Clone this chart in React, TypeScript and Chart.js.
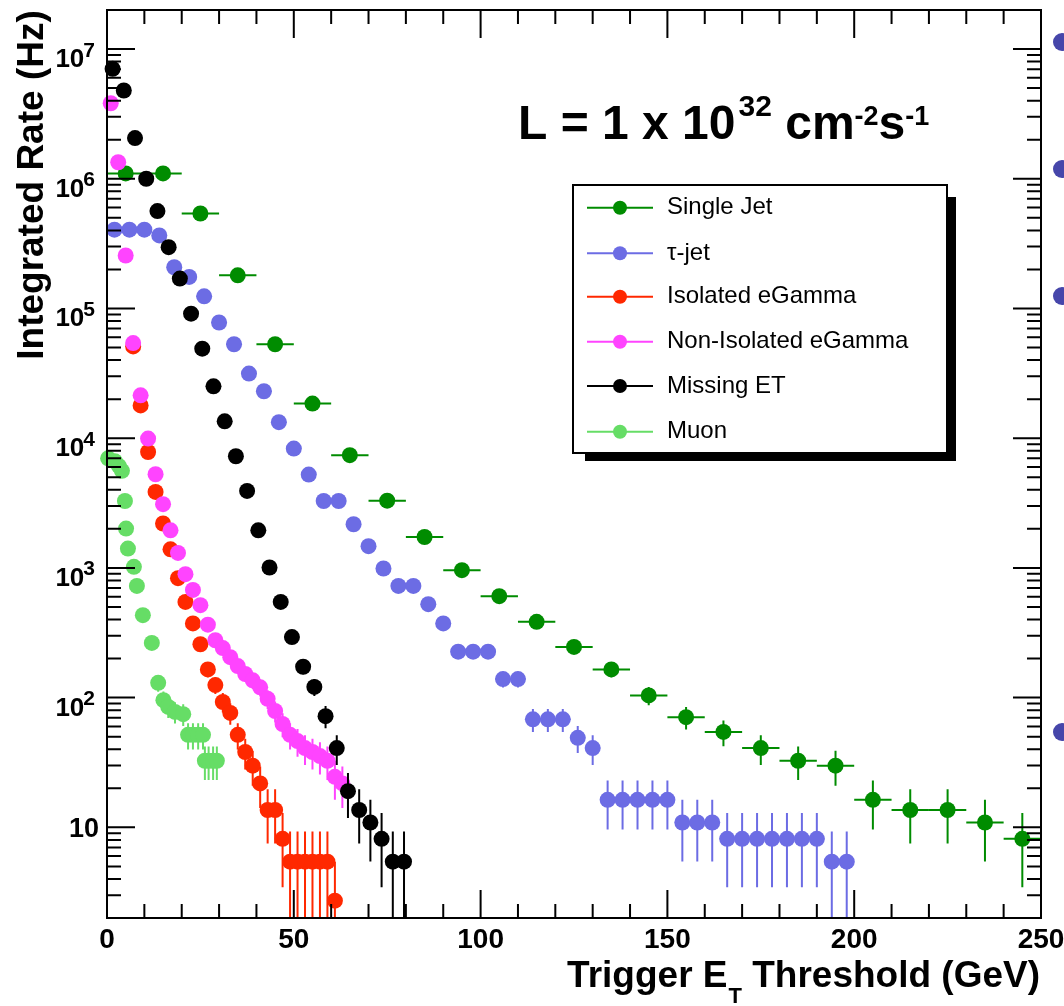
import React, { useEffect, useRef } from 'react';
import { Chart, registerables } from 'chart.js';

Chart.register(...registerables);

// ---------------- data ----------------
const SERIES_LABELS = ['Single Jet', 'τ-jet', 'Isolated eGamma', 'Non-Isolated eGamma', 'Missing ET', 'Muon'];

const jetX = [5, 15, 25, 35, 45, 55, 65, 75, 85, 95, 105, 115, 125, 135, 145, 155, 165, 175, 185, 195, 205, 215, 225, 235, 245];
const jetY = [1.1e6, 1.1e6, 5.4e5, 1.8e5, 5.3e4, 1.85e4, 7400, 3300, 1730, 960, 605, 384, 246, 165, 104, 70.7, 54.4, 40.8, 32.6, 29.9, 16.3, 13.6, 13.6, 10.9, 8.16];

const tauX = [2, 6, 10, 14, 18, 22, 26, 30, 34, 38, 42, 46, 50, 54, 58, 62, 66, 70, 74, 78, 82, 86, 90, 94, 98, 102, 106, 110, 114, 118, 122, 126, 130, 134, 138, 142, 146, 150, 154, 158, 162, 166, 170, 174, 178, 182, 186, 190, 194, 198];
const tauY = [4.05e5, 4.05e5, 4.05e5, 3.66e5, 2.08e5, 1.75e5, 1.24e5, 7.8e4, 5.3e4, 3.15e4, 2.3e4, 1.33e4, 8320, 5240, 3280, 3280, 2170, 1470, 990, 726, 726, 525, 373, 226, 226, 226, 139, 139, 68, 68, 68, 49, 40.8, 16.3, 16.3, 16.3, 16.3, 16.3, 10.9, 10.9, 10.9, 8.16, 8.16, 8.16, 8.16, 8.16, 8.16, 8.16, 5.44, 5.44];

const isoX = [7, 9, 11, 13, 15, 17, 19, 21, 23, 25, 27, 29, 31, 33, 35, 37, 39, 41, 43, 45, 47, 49, 51, 53, 55, 57, 59, 61];
const isoY = [5.1e4, 1.79e4, 7830, 3850, 2200, 1390, 834, 547, 373, 258, 165, 125, 92.5, 76.2, 51.7, 38.1, 29.9, 21.8, 13.6, 13.6, 8.16, 5.44, 5.44, 5.44, 5.44, 5.44, 5.44, 2.72];

const nonIsoX = [1, 3, 5, 7, 9, 11, 13, 15, 17, 19, 21, 23, 25, 27, 29, 31, 33, 35, 37, 39, 41, 43, 45, 47, 49, 51, 53, 55, 57, 59, 61, 63];
const nonIsoY = [3.82e6, 1.34e6, 2.56e5, 5.41e4, 2.14e4, 9930, 5270, 3100, 1950, 1305, 894, 677, 516, 365, 277, 241, 205, 175, 152, 136, 120, 97.9, 78.9, 62.6, 51.7, 46.2, 40.8, 38.1, 35.4, 32.6, 24.5, 21.8];

const metX = [1.5, 4.5, 7.5, 10.5, 13.5, 16.5, 19.5, 22.5, 25.5, 28.5, 31.5, 34.5, 37.5, 40.5, 43.5, 46.5, 49.5, 52.5, 55.5, 58.5, 61.5, 64.5, 67.5, 70.5, 73.5, 76.5, 79.5];
const metY = [7.04e6, 4.79e6, 2.06e6, 1.0e6, 5.63e5, 2.97e5, 1.7e5, 9.12e4, 4.9e4, 2.51e4, 1.35e4, 7260, 3920, 1950, 1007, 547, 293, 173, 121, 72, 40.8, 19.0, 13.6, 10.9, 8.16, 5.44, 5.44];

const muonX = [0.3, 2.1, 3.2, 4.0, 4.8, 5.1, 5.6, 7.2, 8.0, 9.6, 12.0, 13.7, 15.1, 16.4, 18.2, 20.4, 21.7, 23.0, 24.4, 25.7, 26.2, 27.2, 28.4, 29.4];
const muonY = [7000, 6650, 6100, 5600, 3280, 2010, 1410, 1020, 726, 432, 264, 130, 95.5, 84.8, 77.6, 74.6, 51.7, 51.7, 51.7, 51.7, 32.6, 32.6, 32.6, 32.6];

// half bin widths (GeV) used for horizontal error bars
const BIN_HALF_WIDTH = [5, 2, 1, 1, 1.5, 0.4];
// rate carried by one simulated event (Hz): vertical errors are sqrt(N) * weight
const EVENT_WEIGHT = 2.72;

const X_TICK_VALUES = [0, 50, 100, 150, 200, 250];
const X_TICK_LABELS = ['0', '50', '100', '150', '200', '250'];
const Y_TICK_VALUES = [10, 1e2, 1e3, 1e4, 1e5, 1e6, 1e7];
const Y_TICK_EXPONENTS = ['', '2', '3', '4', '5', '6', '7'];

const COLORS = ['#008c00', '#6c6ce4', '#ff2800', '#ff44ff', '#000000', '#66dd66'];
const SERIES_X = [jetX, tauX, isoX, nonIsoX, metX, muonX];
const SERIES_Y = [jetY, tauY, isoY, nonIsoY, metY, muonY];

const FONT = '"Liberation Sans", Arial, Helvetica, sans-serif';

type Run = { t: string; size: number; dy: number; bold?: boolean; gap?: number };

function runsWidth(ctx: CanvasRenderingContext2D, runs: Run[]) {
  let w = 0;
  for (const r of runs) {
    ctx.font = `${r.bold === false ? '' : 'bold '}${r.size}px ${FONT}`;
    w += ctx.measureText(r.t).width + (r.gap || 0);
  }
  return w;
}

function drawRuns(ctx: CanvasRenderingContext2D, runs: Run[], x: number, y: number, align: 'left' | 'right') {
  let cx = align === 'left' ? x : x - runsWidth(ctx, runs);
  ctx.textAlign = 'left';
  ctx.textBaseline = 'alphabetic';
  for (const r of runs) {
    ctx.font = `${r.bold === false ? '' : 'bold '}${r.size}px ${FONT}`;
    cx += r.gap || 0;
    ctx.fillText(r.t, cx, y + r.dy);
    cx += ctx.measureText(r.t).width;
  }
}

const decorPlugin = {
  id: 'rootDecor',
  beforeDatasetDraw(chart: any, args: any) {
    const i = args.index;
    const ctx: CanvasRenderingContext2D = chart.ctx;
    const ca = chart.chartArea;
    const xs = chart.scales.x;
    const ys = chart.scales.y;
    const data = chart.data.datasets[i].data as { x: number; y: number }[];
    ctx.save();
    ctx.beginPath();
    ctx.rect(ca.left, ca.top, ca.right - ca.left, ca.bottom - ca.top);
    ctx.clip();
    ctx.strokeStyle = COLORS[i];
    ctx.lineWidth = 2;
    const hw = BIN_HALF_WIDTH[i];
    for (const p of data) {
      const px = xs.getPixelForValue(p.x);
      const py = ys.getPixelForValue(p.y);
      const err = Math.sqrt(p.y * EVENT_WEIGHT);
      const yTop = ys.getPixelForValue(p.y + err);
      const lo = p.y - err;
      const yBot = lo > 0 ? ys.getPixelForValue(lo) : ca.bottom + 20;
      ctx.beginPath();
      ctx.moveTo(px, yTop);
      ctx.lineTo(px, yBot);
      if (hw > 0) {
        ctx.moveTo(xs.getPixelForValue(p.x - hw), py);
        ctx.lineTo(xs.getPixelForValue(p.x + hw), py);
      }
      ctx.stroke();
    }
    ctx.restore();
  },
  afterDatasetsDraw(chart: any) {
    const ctx: CanvasRenderingContext2D = chart.ctx;
    const ca = chart.chartArea;
    const xs = chart.scales.x;
    const ys = chart.scales.y;
    ctx.save();
    ctx.strokeStyle = '#000';
    ctx.fillStyle = '#000';
    ctx.lineWidth = 2;
    ctx.lineCap = 'butt';
    // frame
    ctx.strokeRect(ca.left, ca.top, ca.right - ca.left, ca.bottom - ca.top);
    // x ticks (bottom and top, inward)
    ctx.beginPath();
    for (let v = 0; v <= 250; v += 10) {
      const px = xs.getPixelForValue(v);
      const len = v % 50 === 0 ? 28 : 14;
      ctx.moveTo(px, ca.bottom);
      ctx.lineTo(px, ca.bottom - len);
      ctx.moveTo(px, ca.top);
      ctx.lineTo(px, ca.top + len);
    }
    // y ticks (left and right, inward)
    for (let e = 0; e <= 7; e++) {
      for (let m = 1; m <= 9; m++) {
        const v = m * Math.pow(10, e);
        if (v < ys.min * 0.999 || v > ys.max * 1.001) continue;
        const py = ys.getPixelForValue(v);
        const len = m === 1 ? 28 : 14;
        ctx.moveTo(ca.left, py);
        ctx.lineTo(ca.left + len, py);
        ctx.moveTo(ca.right, py);
        ctx.lineTo(ca.right - len, py);
      }
    }
    ctx.stroke();

    // x tick labels
    ctx.font = `bold 28px ${FONT}`;
    ctx.textAlign = 'center';
    ctx.textBaseline = 'alphabetic';
    X_TICK_VALUES.forEach((v, k) => {
      ctx.fillText(X_TICK_LABELS[k], xs.getPixelForValue(v), 948);
    });

    // y tick labels
    Y_TICK_VALUES.forEach((v, k) => {
      const py = ys.getPixelForValue(v);
      const ex = Y_TICK_EXPONENTS[k];
      if (!ex) {
        ctx.font = `bold 27px ${FONT}`;
        ctx.textAlign = 'right';
        ctx.fillText('10', 99, py + 9.5);
      } else {
        ctx.font = `bold 21px ${FONT}`;
        ctx.textAlign = 'right';
        ctx.fillText(ex, 95, py + 7.5);
        const ew = ctx.measureText(ex).width;
        ctx.font = `bold 26px ${FONT}`;
        ctx.fillText('10', 95 - ew + 1, py + 18);
      }
    });

    // y title
    ctx.save();
    ctx.translate(43, 185);
    ctx.rotate(-Math.PI / 2);
    ctx.font = `bold 37px ${FONT}`;
    ctx.textAlign = 'center';
    ctx.textBaseline = 'alphabetic';
    ctx.fillText('Integrated Rate (Hz)', 0, 0);
    ctx.restore();

    // x title
    drawRuns(ctx, [
      { t: 'Trigger E', size: 37, dy: 0 },
      { t: 'T', size: 22, dy: 16, gap: 1 },
      { t: ' Threshold (GeV)', size: 37, dy: 0 },
    ], 1040, 987, 'right');

    // luminosity text
    drawRuns(ctx, [
      { t: 'L = 1 x 10', size: 48, dy: 0 },
      { t: '32', size: 30, dy: -23, gap: 3 },
      { t: ' cm', size: 48, dy: 0 },
      { t: '-2', size: 27, dy: -14 },
      { t: 's', size: 48, dy: 0 },
      { t: '-1', size: 27, dy: -14 },
    ], 518, 139, 'left');

    // legend
    const L = { x: 573, y: 185, w: 374, h: 268 };
    ctx.fillStyle = '#000';
    ctx.fillRect(L.x + 12, L.y + 12, L.w - 3, L.h - 4);
    ctx.fillStyle = '#fff';
    ctx.fillRect(L.x, L.y, L.w, L.h);
    ctx.strokeStyle = '#000';
    ctx.lineWidth = 2;
    ctx.strokeRect(L.x, L.y, L.w, L.h);
    const rows = [207.7, 253.3, 296.7, 341.7, 386, 431.7];
    chart.data.datasets.forEach((ds: any, k: number) => {
      const ry = rows[k];
      ctx.strokeStyle = COLORS[k];
      ctx.lineWidth = 2;
      ctx.beginPath();
      ctx.moveTo(587, ry);
      ctx.lineTo(653, ry);
      ctx.stroke();
      ctx.fillStyle = COLORS[k];
      ctx.beginPath();
      ctx.arc(620, ry, 7, 0, Math.PI * 2);
      ctx.fill();
      ctx.fillStyle = '#000';
      ctx.font = `24px ${FONT}`;
      ctx.textAlign = 'left';
      ctx.textBaseline = 'middle';
      ctx.fillText(ds.label, 667, ry);
    });

    // slide bullets at right edge
    ctx.fillStyle = '#4646aa';
    [42, 169, 296, 732].forEach((by) => {
      ctx.beginPath();
      ctx.arc(1062, by, 9, 0, Math.PI * 2);
      ctx.fill();
    });
    ctx.restore();
  },
};

export default function App() {
  const ref = useRef<HTMLCanvasElement>(null);
  useEffect(() => {
    document.body.style.margin = '0';
    const canvas = ref.current;
    if (!canvas) return;
    const chart = new Chart(canvas, {
      type: 'scatter',
      data: {
        datasets: SERIES_LABELS.map((label, i) => ({
          label,
          data: SERIES_X[i].map((x, j) => ({ x, y: SERIES_Y[i][j] })),
          backgroundColor: COLORS[i],
          borderColor: COLORS[i],
          pointRadius: 8,
          pointBorderWidth: 0,
          pointHoverRadius: 8,
          showLine: false,
          order: -i,
          clip: false as any,
        })),
      },
      options: {
        animation: false,
        responsive: false,
        devicePixelRatio: 1,
        events: [],
        layout: { padding: { left: 107, right: 23, top: 10, bottom: 88 } },
        scales: {
          x: { type: 'linear', min: 0, max: 250, display: false },
          y: { type: 'logarithmic', min: 2, max: 2e7, display: false },
        },
        plugins: {
          legend: { display: false },
          tooltip: { enabled: false },
        },
      },
      plugins: [decorPlugin as any],
    });
    return () => chart.destroy();
  }, []);
  return (
    <div style={{ position: 'relative', width: 1064, height: 1006, background: '#fff' }}>
      <canvas ref={ref} width={1064} height={1006} style={{ display: 'block', width: 1064, height: 1006 }} />
    </div>
  );
}
